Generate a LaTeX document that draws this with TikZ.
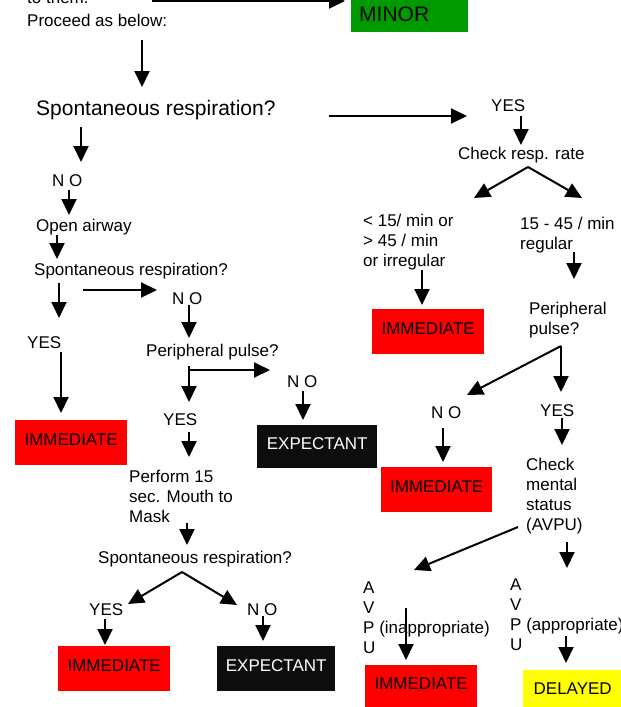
\documentclass[tikz,border=0pt]{standalone}
\usepackage{fontspec}
\setmainfont{Liberation Sans}
\usetikzlibrary{arrows.meta}
\definecolor{minorgreen}{RGB}{0,153,0}
\definecolor{immred}{RGB}{255,0,0}
\definecolor{expblack}{RGB}{13,13,13}
\definecolor{delyellow}{RGB}{255,255,0}

\begin{document}
\begin{tikzpicture}
  [x=1pt,y=-1pt,
   every node/.style={inner sep=0pt,font=\fontsize{17}{20}\selectfont},
   lbl/.style={anchor=west},
   multi/.style={anchor=north west,align=left},
   big/.style={font=\fontsize{21}{24}\selectfont},
   tagbox/.style={anchor=north west,minimum height=45pt,text depth=7pt},
   arr/.style={-{Triangle[length=16pt,width=15pt]},line width=2pt}]
  \useasboundingbox (0,0) rectangle (621,707);
  \clip (0,0) rectangle (621,707);

  % left column
  \node[anchor=base west] (tothem) at (27,3) {to them.};
  \node[lbl] (proceed) at (27,20) {Proceed as below:};
  \node[lbl,big] (resp1) at (36,110) {Spontaneous respiration?};
  \node[lbl] (no1) at (52,181) {N O};
  \node[lbl] (open) at (36,227) {Open airway};
  \node[lbl] (resp2) at (34,271) {Spontaneous respiration?};
  \node[lbl] (no2) at (172,299) {N O};
  \node[lbl] (yes1) at (27,343) {YES};
  \node[lbl] (pulse1) at (146,352) {Peripheral pulse?};
  \node[lbl] (no3) at (287,382) {N O};
  \node[lbl] (yes2) at (163,420) {YES};
  \node[multi] (perform) at (129,470) {Perform 15\\sec. Mouth to\\Mask};
  \node[lbl] (resp3) at (98,559) {Spontaneous respiration?};
  \node[lbl] (yes3) at (89,610) {YES};
  \node[lbl] (no4) at (247,610) {N O};

  % right column
  \node[lbl] (yes4) at (491,106) {YES};
  \node[lbl] (check) at (458,155) {Check resp. rate};
  \node[multi] (fast) at (363,214) {< 15/ min or\\> 45 / min\\or irregular};
  \node[multi] (normal) at (520,217) {15 - 45 / min\\regular};
  \node[multi] (pulse2) at (529,302) {Peripheral\\pulse?};
  \node[lbl] (no5) at (431,413) {N O};
  \node[lbl] (yes5) at (540,411) {YES};
  \node[multi] (mental) at (526,458) {Check\\mental\\status\\(AVPU)};
  \node[multi] (avpu1) at (363,582) {A\\V\\P (inappropriate)\\U};
  \node[multi] (avpu2) at (510,579) {A\\V\\P (appropriate)\\U};

  % categories
  \node[anchor=south west,big,fill=minorgreen,minimum width=117pt,minimum height=36pt,
        text width=101pt,align=left] (minor) at (351,32) {MINOR};
  \node[tagbox,fill=immred,minimum width=112pt] (imm1) at (15,420) {IMMEDIATE};
  \node[tagbox,fill=expblack,text=white,minimum width=120pt,minimum height=43pt] (exp1) at (257,425) {EXPECTANT};
  \node[tagbox,fill=immred,minimum width=112pt] (imm2) at (58,646) {IMMEDIATE};
  \node[tagbox,fill=expblack,text=white,minimum width=118pt] (exp2) at (217,646) {EXPECTANT};
  \node[tagbox,fill=immred,minimum width=112pt] (imm3) at (372,309) {IMMEDIATE};
  \node[tagbox,fill=immred,minimum width=111pt] (imm4) at (381,467) {IMMEDIATE};
  \node[tagbox,fill=immred,minimum width=112pt,minimum height=42pt,text depth=6pt] (imm5) at (365,665) {IMMEDIATE};
  \node[tagbox,fill=delyellow,minimum width=99pt,minimum height=37pt,text depth=0pt] (delayed) at (523,670) {DELAYED};

  % arrow ends
  \foreach \n/\x/\y in {t1/142/40, h1/142/87, t2/81/127, h2/81/162, t3/69/190, h3/69/215,
      t4/57/235, h4/57/259, t5/59/283, h5/59/318, t6/83/290, h6/157/290,
      t7/189/305, h7/189/338, t8/61/352, h8/61/413, t9/189/366, h9/189/402,
      t10/189/370, h10/270/370, t11/303/391, h11/303/420, t12/189/432, h12/189/457,
      t13/187/523, h13/187/545, t14/182/572, h14/128/604, h15/237/605,
      t16/105/619, h16/105/645, t17/263/616, h17/263/641,
      t18/152/1, h18/345/1, t19/329/116, h19/467/116, t20/521/116, h20/521/145,
      t21/528/167, h21/474/198, h22/582/198, t23/422/270, h23/422/305,
      t24/574/252, h24/574/279, t25/561/346, h25/467/395, h26/561/392,
      t27/443/428, h27/443/462, t28/562/418, h28/562/445,
      t29/518/527, h29/414/570, t30/567/542, h30/567/568,
      t31/406/608, h31/406/660, t32/566/636, h32/566/663}
    \coordinate (\n) at (\x,\y);

  \foreach \from/\to in {t1/h1, t2/h2, t3/h3, t4/h4, t5/h5, t6/h6, t7/h7, t8/h8, t9/h9,
      t10/h10, t11/h11, t12/h12, t13/h13, t14/h14, t14/h15, t16/h16, t17/h17,
      t18/h18, t19/h19, t20/h20, t21/h21, t21/h22, t23/h23, t24/h24, t25/h25,
      t25/h26, t27/h27, t28/h28, t29/h29, t30/h30, t31/h31, t32/h32}
    \draw[arr] (\from) -- (\to);

\end{tikzpicture}
\end{document}
